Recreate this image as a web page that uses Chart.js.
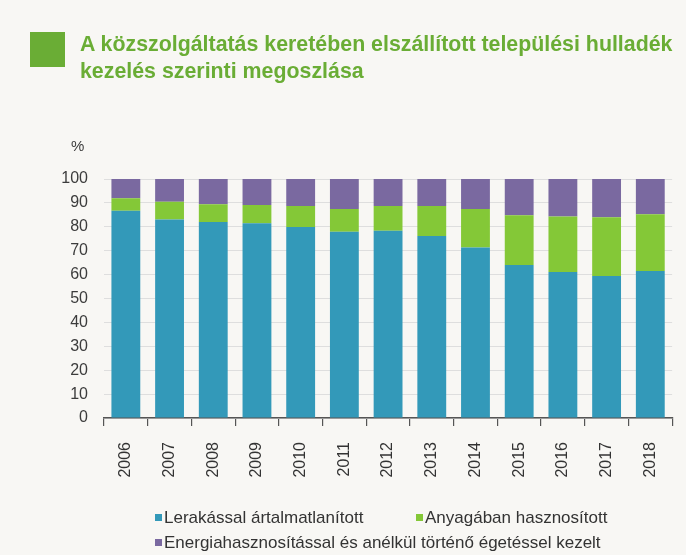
<!DOCTYPE html>
<html>
<head>
<meta charset="utf-8">
<script src="https://cdn.jsdelivr.net/npm/chart.js@4.4.0/dist/chart.umd.min.js"></script>
<style>
  body { margin: 0; background: #f8f7f4; }
  #wrap { position: relative; width: 686px; height: 555px; overflow: hidden; }
  #chart { position: absolute; left: 0; top: 0; }
  #cim-jel { position: absolute; left: 30px; top: 32px; width: 35px; height: 35px; background: #6aad35; }
  #cim { position: absolute; left: 80px; top: 30px; font-family: 'Liberation Sans', sans-serif;
         font-weight: bold; font-size: 22px; line-height: 27px; color: #6aad35; white-space: nowrap;
         transform-origin: 0 0; }
  #szazalek { position: absolute; left: 71px; top: 137px; font-family: 'Liberation Sans', sans-serif; font-size: 15px; color: #3c3c3c; }
  .jelmagyarazat { position: absolute; font-family: 'Liberation Sans', sans-serif; font-size: 17px; line-height: 20px;
                   color: #333; white-space: nowrap; }
  .jelmagyarazat span { display: inline-block; width: 7px; height: 7px; margin-right: 2px; vertical-align: 2px; }
</style>
</head>
<body>
<div id="wrap">
  <canvas id="chart" width="686" height="555"></canvas>
  <div id="cim-jel"></div>
  <div id="cim">A közszolgáltatás keretében elszállított települési hulladék<br>kezelés szerinti megoszlása</div>
  <div id="szazalek">%</div>
  <div id="jm"></div>
</div>
<script>
var evek = ['2006','2007','2008','2009','2010','2011','2012','2013','2014','2015','2016','2017','2018'];

var lerakas = [86.7, 83.1, 82.0, 81.5, 79.9, 77.9, 78.3, 76.2, 71.3, 64.0, 61.1, 59.4, 61.5];
var anyagaban = [5.2, 7.4, 7.4, 7.6, 8.8, 9.5, 10.4, 12.5, 16.2, 20.8, 23.2, 24.6, 23.8];
var egetes = [8.1, 9.5, 10.6, 10.9, 11.3, 12.6, 11.3, 11.3, 12.5, 15.2, 15.7, 16.0, 14.7];

var sorozatNevek = ['Lerakással ártalmatlanított', 'Anyagában hasznosított',
    'Energiahasznosítással és anélkül történő égetéssel kezelt'];
var szinek = ['#3399b9', '#84c837', '#7a69a0'];

var yTickek = [0, 10, 20, 30, 40, 50, 60, 70, 80, 90, 100];

// a cim keskenyebb betuvel van szedve, ezert osszenyomjuk
var cim = document.getElementById('cim');
cim.style.transform = 'scaleX(' + (592 / cim.scrollWidth) + ')';

// jelmagyarazat html-ben, a sorozatok neveibol
var helyek = [[155, 508], [416, 508], [155, 533]];
var jm = document.getElementById('jm');
sorozatNevek.forEach(function (nev, i) {
    var d = document.createElement('div');
    d.className = 'jelmagyarazat';
    d.style.left = helyek[i][0] + 'px';
    d.style.top = helyek[i][1] + 'px';
    d.innerHTML = '<span style="background:' + szinek[i] + '"></span>' + nev;
    jm.appendChild(d);
});

var adatok = [lerakas, anyagaban, egetes];

var datos = {
    labels: evek,
    datasets: adatok.map(function (ertekek, i) {
        return {
            label: sorozatNevek[i],
            data: ertekek,
            backgroundColor: szinek[i],
            borderWidth: 0,
            barPercentage: 0.66,
            categoryPercentage: 1
        };
    })
};

var canvas = document.getElementById('chart').getContext('2d');
window.bar = new Chart(canvas, {
    type: 'bar',
    data: datos,
    options: {
        responsive: false,
        animation: false,
        layout: {
            padding: { left: 0, right: 13, top: 179, bottom: 0 }
        },
        plugins: {
            legend: { display: false },
            title: { display: false },
            tooltip: { enabled: false }
        },
        scales: {
            x: {
                stacked: true,
                afterFit: function (s) { s.height = 137; },
                grid: {
                    offset: true,
                    drawOnChartArea: false,
                    tickLength: 8,
                    color: '#555',
                    lineWidth: 1.2
                },
                border: { color: '#555', width: 1.5 },
                ticks: {
                    minRotation: 90,
                    maxRotation: 90,
                    padding: 16,
                    color: '#333',
                    font: { family: 'Liberation Sans', size: 16 }
                }
            },
            y: {
                stacked: true,
                min: 0,
                max: 100,
                afterFit: function (s) { s.width = 104; },
                afterBuildTicks: function (s) {
                    s.ticks = yTickek.map(function (v) { return { value: v }; });
                },
                grid: {
                    drawTicks: false,
                    color: '#dedede',
                    lineWidth: 1
                },
                border: { display: false },
                ticks: {
                    padding: 16,
                    color: '#3c3c3c',
                    font: { family: 'Liberation Sans', size: 16 }
                }
            }
        }
    }
});
</script>
</body>
</html>
